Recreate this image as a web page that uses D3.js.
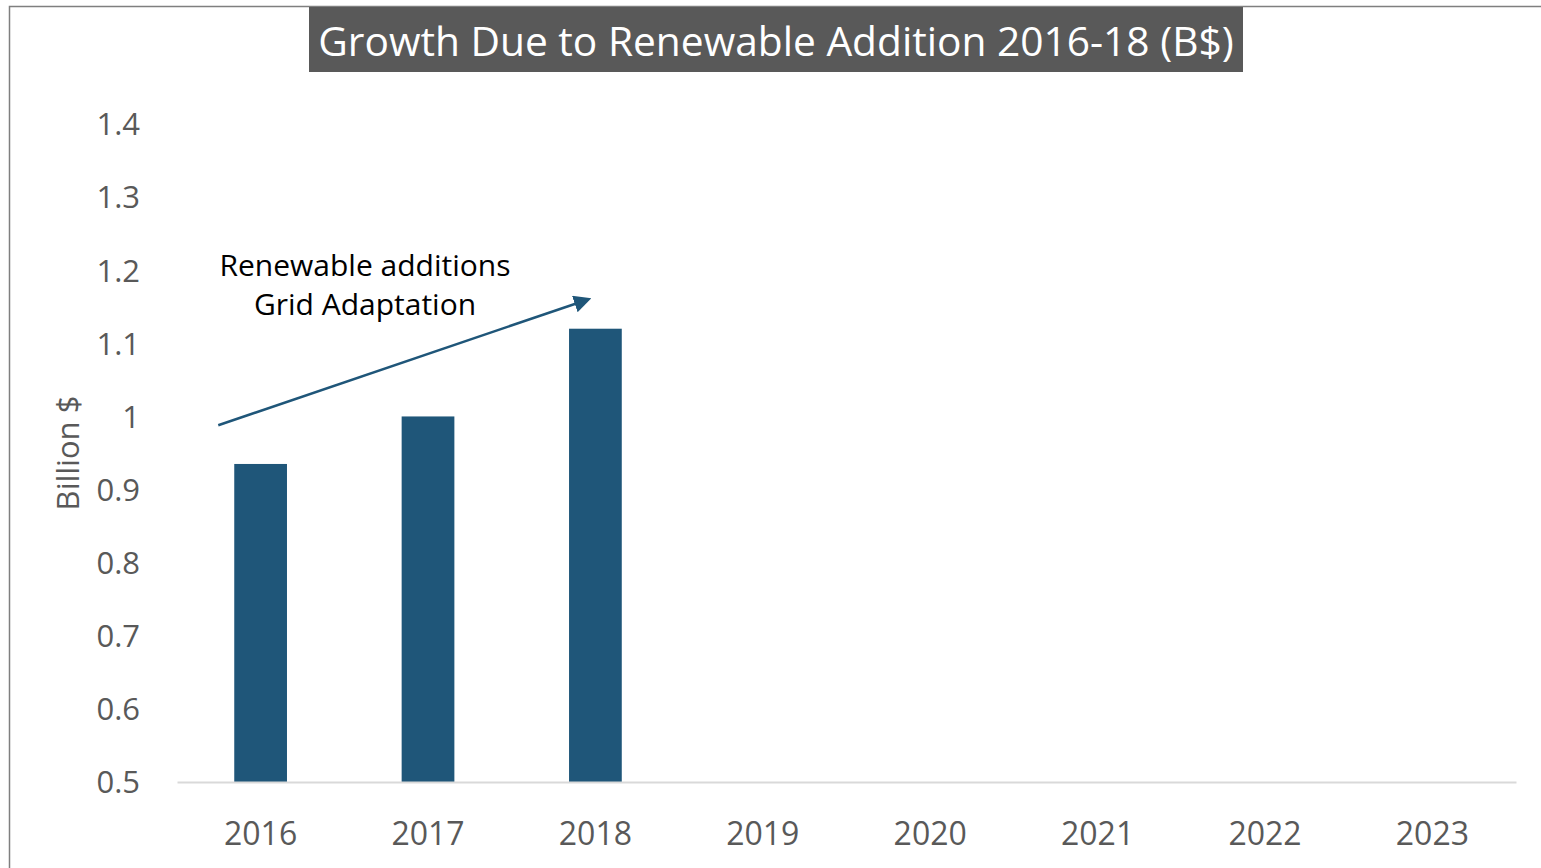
<!DOCTYPE html>
<html>
<head>
<meta charset="utf-8">
<script src="https://cdn.jsdelivr.net/npm/d3@7"></script>
<style>
  body { margin: 0; background: #fff; }
  svg { display: block; font-family: "Open Sans", "Noto Sans", sans-serif; }
</style>
</head>
<body>
<div id="chart"></div>
<script>
// data
var years = ["2016", "2017", "2018", "2019", "2020", "2021", "2022", "2023"]
var values = [0.935, 1.0, 1.12, null, null, null, null, null]
var yTicks = [0.5, 0.6, 0.7, 0.8, 0.9, 1.0, 1.1, 1.2, 1.3, 1.4]
var titleText = "Growth Due to Renewable Addition 2016-18 (B$)"
var noteLines = ["Renewable additions", "Grid Adaptation"]
// arrow runs from just left of the first bar to just past the third bar's left edge
var arrowFrom = { year: "2016", value: 0.988 }
var arrowTo = { year: "2018", value: 1.16 }

var width = 1541,
    height = 868,
    margin = { top: 124, right: 25, bottom: 86, left: 177 }

var svg = d3.select("#chart")
  .append("svg")
    .attr("width", width)
    .attr("height", height)

// outer frame (only top and left edges are visible)
svg.append("path")
  .attr("d", "M9.5," + height + "V6.5H" + width)
  .attr("fill", "none")
  .attr("stroke", "#7f7f7f")
  .attr("stroke-width", 1.5)

var x = d3.scaleBand()
  .domain(years)
  .range([margin.left, width - margin.right])
  .paddingInner(0.685)
  .paddingOuter(0.342)

var y = d3.scaleLinear()
  .domain([0.5, 1.4])
  .range([height - margin.bottom, margin.top])

// title box
var titleG = svg.append("g")
var titleRect = titleG.append("rect")
  .attr("fill", "#595959")
var title = titleG.append("text")
  .attr("x", 776)
  .attr("y", 56)
  .attr("text-anchor", "middle")
  .attr("fill", "#fff")
  .style("font-size", "38px")
  .text(titleText)
var tw = title.node().getComputedTextLength()
if (tw > 0) title.style("font-size", (38 * 916 / tw) + "px")
titleRect
  .attr("x", 309)
  .attr("y", 7)
  .attr("width", 934)
  .attr("height", 65)

// bars
svg.selectAll(".bar")
  .data(years.map((d, i) => ({ year: d, value: values[i] })).filter(d => d.value != null))
  .enter()
  .append("rect")
    .attr("class", "bar")
    .attr("x", d => x(d.year))
    .attr("y", d => y(d.value))
    .attr("width", x.bandwidth())
    .attr("height", d => y(0.5) - y(d.value))
    .attr("fill", "#1f5679")

// x axis
var xAxis = svg.append("g")
  .attr("transform", "translate(0," + y(0.5) + ")")
  .call(d3.axisBottom(x).tickSize(0).tickPadding(40))
xAxis.select(".domain").attr("stroke", "#d9d9d9").attr("stroke-width", 2)
xAxis.selectAll("text")
  .attr("fill", "#595959")
  .style("font-size", "32px")
  .style("font-family", "'Open Sans', 'Noto Sans', sans-serif")

// y axis
var yAxis = svg.append("g")
  .attr("transform", "translate(140,0)")
  .call(d3.axisLeft(y).tickValues(yTicks).tickSize(0).tickPadding(0).tickFormat(d => d3.format("")(+d.toFixed(1))))
yAxis.select(".domain").remove()
yAxis.selectAll("text")
  .attr("fill", "#595959")
  .attr("dy", "0.35em")
  .style("font-size", "31px")
  .style("font-family", "'Open Sans', 'Noto Sans', sans-serif")

// y label
svg.append("text")
  .attr("transform", "translate(79," + 453 + ") rotate(-90)")
  .attr("text-anchor", "middle")
  .attr("fill", "#595959")
  .style("font-size", "31px")
  .text("Billion $")

// arrow annotation
svg.append("defs").append("marker")
  .attr("id", "arrowhead")
  .attr("viewBox", "0 0 10 10")
  .attr("refX", 8)
  .attr("refY", 5)
  .attr("markerWidth", 7)
  .attr("markerHeight", 7)
  .attr("markerUnits", "strokeWidth")
  .attr("orient", "auto")
  .append("path")
    .attr("d", "M0,0L10,5L0,10z")
    .attr("fill", "#1f5679")

svg.append("line")
  .attr("x1", x(arrowFrom.year) - 16)
  .attr("y1", y(arrowFrom.value))
  .attr("x2", x(arrowTo.year) + 19)
  .attr("y2", y(arrowTo.value))
  .attr("stroke", "#1f5679")
  .attr("stroke-width", 2.5)
  .attr("marker-end", "url(#arrowhead)")

svg.selectAll(".note")
  .data(noteLines)
  .enter()
  .append("text")
    .attr("class", "note")
    .attr("x", 365)
    .attr("y", (d, i) => 276 + i * 39)
    .attr("text-anchor", "middle")
    .attr("fill", "#000")
    .style("font-size", "30px")
    .text(d => d)
</script>
</body>
</html>
